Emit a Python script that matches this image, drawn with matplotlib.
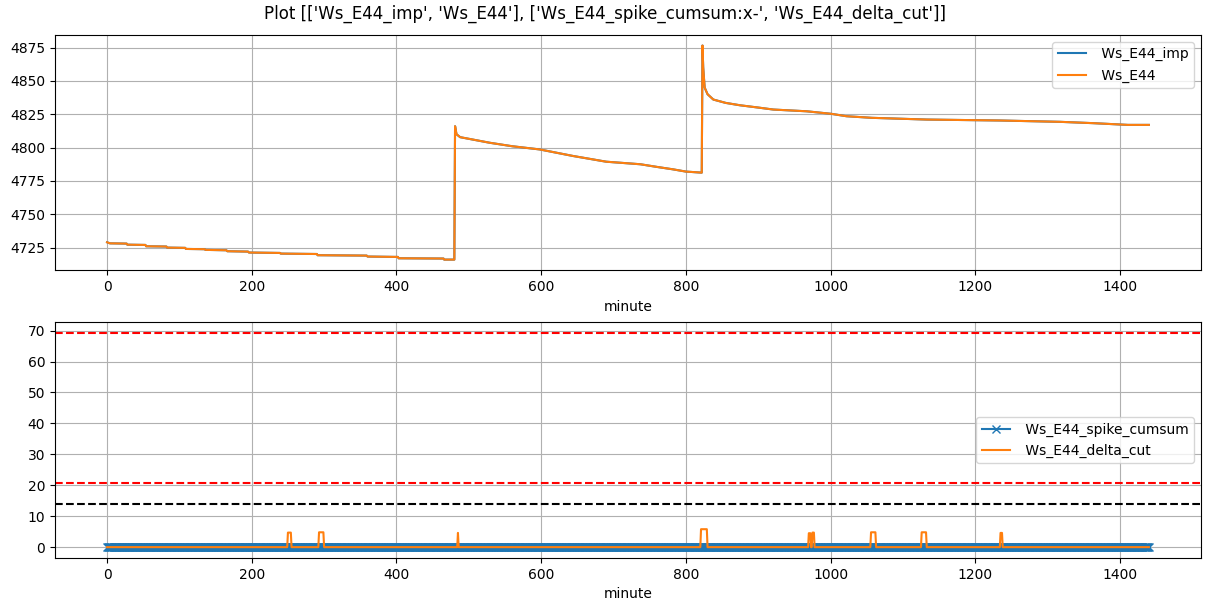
import numpy as np
import matplotlib
matplotlib.use("Agg")
import matplotlib.pyplot as plt

# Ws_E44 level (minute, value)
ws_minute = [0, 3, 4, 27, 28, 53, 54, 82, 83, 108, 109, 135, 136, 165, 166,
             195, 196, 239, 240, 290, 291, 359, 360, 402, 403, 465, 466, 480,
             481, 483, 488, 529, 560, 598, 644, 690, 737, 760, 782, 800, 822,
             823, 824, 826, 830, 838, 855, 875, 900, 921, 967, 1001, 1022,
             1057, 1133, 1234, 1317, 1363, 1411, 1440]
ws_e44 = [4729.0, 4728.4, 4728.2, 4728.0, 4727.2, 4727.0, 4726.0, 4725.8,
          4725.0, 4724.8, 4724.0, 4723.8, 4723.3, 4723.0, 4722.3, 4722.0,
          4721.3, 4721.0, 4720.5, 4720.2, 4719.3, 4719.0, 4718.3, 4718.0,
          4717.0, 4716.8, 4716.0, 4716.0,
          4816.0, 4810.0, 4807.8, 4803.6, 4801.0, 4798.6, 4793.7, 4789.4,
          4787.5, 4785.5, 4783.7, 4782.0, 4781.2,
          4876.5, 4860.0, 4845.0, 4840.0, 4836.0, 4833.5, 4831.7, 4830.0,
          4828.5, 4827.2, 4825.3, 4823.5, 4822.3, 4821.0, 4820.3, 4819.3,
          4818.3, 4817.0, 4817.0]
ws_e44_imp = list(ws_e44)

# bottom panel
n_minutes = 1441
spike_cumsum = [0] * n_minutes
cut_start = [250, 293, 485, 821, 970, 975, 1056, 1126, 1235]
cut_end = [254, 299, 485, 829, 972, 977, 1062, 1132, 1237]
cut_height = [4.7, 4.8, 4.6, 5.8, 4.5, 4.7, 4.8, 4.8, 4.6]
limit_red = [69.2, 20.7]
limit_black = 14.0

minute = np.arange(n_minutes)
delta_cut = np.zeros(n_minutes)
for s, e, h in zip(cut_start, cut_end, cut_height):
    delta_cut[s:e + 1] = h

fig, (ax1, ax2) = plt.subplots(2, 1, figsize=(12.11, 6.11), dpi=100)
fig.subplots_adjust(left=0.0454, right=0.9917, top=0.943, bottom=0.087,
                    hspace=0.221)
fig.suptitle("Plot [['Ws_E44_imp', 'Ws_E44'], "
             "['Ws_E44_spike_cumsum:x-', 'Ws_E44_delta_cut']]",
             y=0.992, va="top")

ax1.plot(ws_minute, ws_e44_imp, label=" Ws_E44_imp")
ax1.plot(ws_minute, ws_e44, label=" Ws_E44")
ax1.set_xlabel("minute")
ax1.grid(True)
ax1.legend(loc="upper right")

ax2.plot(minute, spike_cumsum, "x-", label=" Ws_E44_spike_cumsum")
ax2.plot(minute, delta_cut, label=" Ws_E44_delta_cut")
for v in limit_red:
    ax2.axhline(v, color="r", linestyle="--")
ax2.axhline(limit_black, color="k", linestyle="--")
ax2.set_xlabel("minute")
ax2.grid(True)
ax2.legend(loc="center right")

fig.savefig("out.png")
